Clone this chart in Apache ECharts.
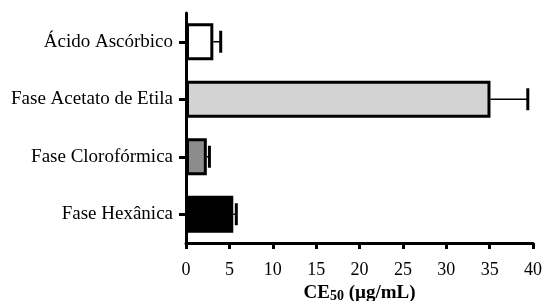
<!DOCTYPE html>
<html><head><meta charset="utf-8">
<script src="https://cdn.jsdelivr.net/npm/echarts@6/dist/echarts.min.js"></script>
<style>html,body{margin:0;padding:0;background:#fff;overflow:hidden}#c{width:543px;height:301px}</style>
</head><body><div id="c"></div>
<script>
var categories = ['Ácido Ascórbico', 'Fase Acetato de Etila', 'Fase Clorofórmica', 'Fase Hexânica'];
var values = [3.15, 35.1, 2.4, 5.45];
var errors = [0.85, 4.3, 0.3, 0.35];
var barColors = ['#ffffff', '#d3d3d3', '#8c8c8c', '#000000'];
var xTicks = [0, 5, 10, 15, 20, 25, 30, 35, 40];

var chart = echarts.init(document.getElementById('c'), null, {renderer: 'canvas', width: 543, height: 301});
var font = 'Liberation Serif';
chart.setOption({
  animation: false,
  grid: {left: 186, right: 10, top: 13, bottom: 58, containLabel: false, outerBoundsMode: 'none'},
  xAxis: {
    type: 'value', min: xTicks[0], max: xTicks[xTicks.length - 1], interval: 5,
    axisLine: {show: true, lineStyle: {color: '#000', width: 3}},
    axisTick: {show: true, length: 6, lineStyle: {color: '#000', width: 3}},
    axisLabel: {color: '#000', fontFamily: font, fontSize: 18, margin: 18},
    splitLine: {show: false},
    name: '{a|CE}{b|50}{a| (µg/mL)}',
    nameLocation: 'middle', nameGap: 41,
    nameTextStyle: {
      rich: {
        a: {fontFamily: font, fontWeight: 'bold', fontSize: 19, color: '#000'},
        b: {fontFamily: font, fontWeight: 'bold', fontSize: 14, color: '#000', padding: [5, 0, 0, 0]}
      }
    }
  },
  yAxis: {
    type: 'category', data: categories, inverse: true,
    axisLine: {show: true, lineStyle: {color: '#000', width: 3}},
    axisTick: {show: true, alignWithLabel: true, length: 7, lineStyle: {color: '#000', width: 3}},
    axisLabel: {color: '#000', fontFamily: font, fontSize: 19, margin: 13}
  },
  series: [{
    type: 'bar', barWidth: 37,
    data: values.map(function (v, i) {
      return {value: v, itemStyle: {color: barColors[i], borderColor: '#000', borderWidth: 3}};
    })
  }, {
    type: 'custom',
    data: values.map(function (v, i) { return [v, i, v + errors[i]]; }),
    renderItem: function (params, api) {
      var s = api.coord([api.value(0), api.value(1)]);
      var e = api.coord([api.value(2), api.value(1)]);
      return {type: 'group', children: [
        {type: 'line', shape: {x1: s[0], y1: s[1], x2: e[0], y2: e[1]}, style: {stroke: '#000', lineWidth: 1.5}},
        {type: 'line', shape: {x1: e[0], y1: e[1] - 11, x2: e[0], y2: e[1] + 11}, style: {stroke: '#000', lineWidth: 3}}
      ]};
    },
    z: 3
  }]
});
</script></body></html>
